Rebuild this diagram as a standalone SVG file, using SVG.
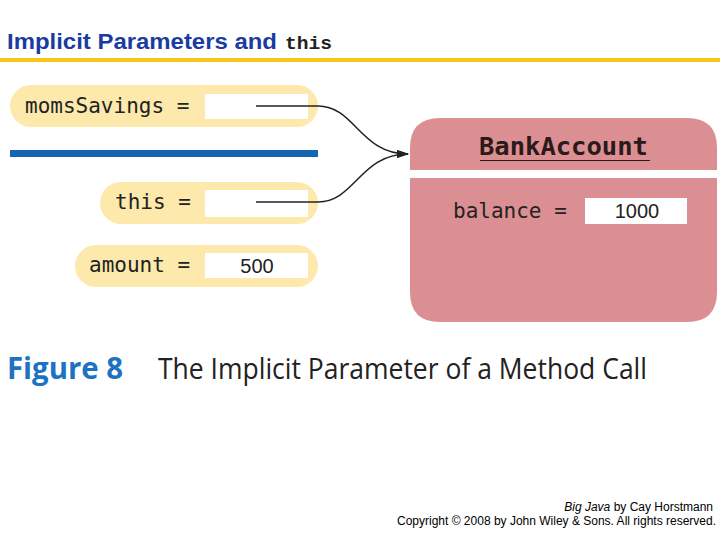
<svg xmlns="http://www.w3.org/2000/svg" width="720" height="540" viewBox="0 0 720 540">
<style>
.pill{fill:#fde9ac}
.box{fill:#ffffff}
.mono{font-family:"DejaVu Sans Mono","Liberation Mono",monospace;font-size:21px;fill:#222}
.num{font-family:"Liberation Sans",Arial,sans-serif;font-size:20px;fill:#222}
.conn{fill:none;stroke:#222;stroke-width:1.5}
</style>
<defs>
<marker id="arr" markerWidth="12" markerHeight="8" refX="11" refY="4" orient="auto" markerUnits="userSpaceOnUse">
<path d="M0,0 L12,4 L0,8 Z" fill="#222"/>
</marker>
</defs>
<rect width="720" height="540" fill="#ffffff"/>
<g id="title">
<text x="7" y="49" font-family="Liberation Sans, Arial, sans-serif" font-weight="bold" font-size="22" fill="#1a3ca0" textLength="270" lengthAdjust="spacingAndGlyphs">Implicit Parameters and</text>
<text x="285" y="49" font-family="Liberation Mono, monospace" font-weight="bold" font-size="18" fill="#222" textLength="47" lengthAdjust="spacingAndGlyphs">this</text>
<rect x="0" y="58" width="720" height="4" fill="#f5c518"/>
</g>
<g id="momsSavings">
<rect class="pill" x="10" y="85" width="308" height="42" rx="21"/>
<rect class="box" x="205" y="94" width="103" height="25"/>
<text class="mono" x="25" y="113">momsSavings =</text>
</g>
<rect id="divider" x="10" y="150" width="308" height="7" fill="#1565b0"/>
<g id="this">
<rect class="pill" x="100" y="182" width="218" height="42" rx="21"/>
<rect class="box" x="205" y="190" width="103" height="27"/>
<text class="mono" x="115" y="209">this =</text>
</g>
<g id="amount">
<rect class="pill" x="75" y="245" width="243" height="42" rx="21"/>
<rect class="box" x="205" y="253" width="103" height="25"/>
<text class="mono" x="89" y="272">amount =</text>
<text class="num" x="257" y="273" text-anchor="middle">500</text>
</g>
<g id="bankAccount">
<path d="M410,170 V148 Q410,118 440,118 H687 Q717,118 717,148 V170 Z" fill="#dc8f92"/>
<path d="M410,178 H717 V292 Q717,322 687,322 H440 Q410,322 410,292 Z" fill="#dc8f92"/>
<text x="479" y="155" font-family="DejaVu Sans Mono, monospace" font-weight="bold" font-size="25.5" fill="#2a1a1a">BankAccount</text>
<line x1="480" y1="160.5" x2="650" y2="160.5" stroke="#2a1a1a" stroke-width="1.2"/>
<text class="mono" x="453" y="218">balance =</text>
<rect class="box" x="585" y="198" width="102" height="26"/>
<text class="num" x="637" y="218" text-anchor="middle">1000</text>
</g>
<g id="connectors">
<path class="conn" d="M256,106 H318 C355,106 360,154 408,154" marker-end="url(#arr)"/>
<path class="conn" d="M256,202 H318 C355,202 360,154 408,154" marker-end="url(#arr)"/>
</g>
<g id="caption">
<text x="7" y="379" font-family="Open Sans, Liberation Sans, sans-serif" font-weight="bold" font-size="30" fill="#1d73c2" textLength="116" lengthAdjust="spacingAndGlyphs">Figure 8</text>
<text x="158" y="379" font-family="Open Sans, Liberation Sans, sans-serif" font-size="30" fill="#222" textLength="489" lengthAdjust="spacingAndGlyphs">The Implicit Parameter of a Method Call</text>
</g>
<g id="footer" font-family="Liberation Sans, Arial, sans-serif" font-size="12" fill="#000">
<text x="713" y="511" text-anchor="end"><tspan font-style="italic">Big Java</tspan> by Cay Horstmann</text>
<text x="716" y="525" text-anchor="end">Copyright © 2008 by John Wiley &amp; Sons.  All rights reserved.</text>
</g>
</svg>
